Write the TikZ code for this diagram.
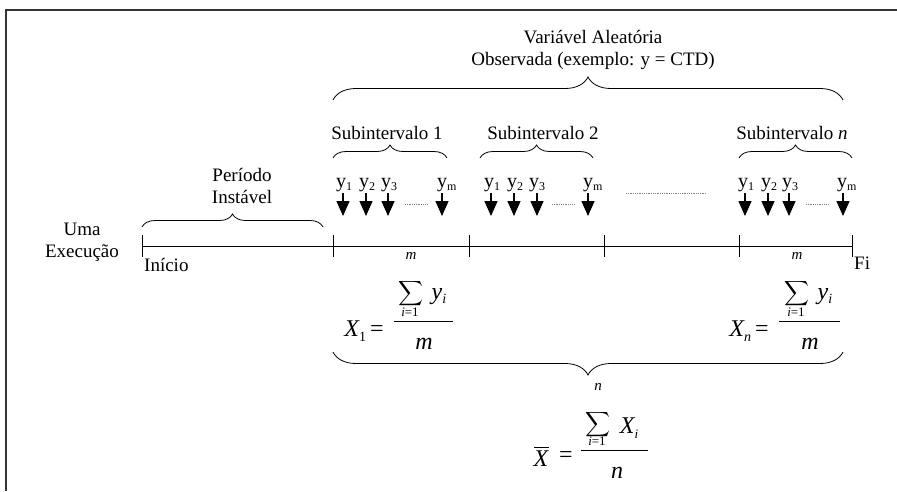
\documentclass[tikz,border=0pt]{standalone}
\usepackage{exscale}
\usepackage{fontspec}
\setmainfont{Liberation Serif}
\usetikzlibrary{decorations.pathreplacing,arrows.meta}
\newcommand\ysub[1]{y\raisebox{-3pt}{\fontsize{12}{12}\selectfont #1}}
\begin{document}
\begin{tikzpicture}[x=1pt,y=-1pt,
  lbl/.style={inner sep=0pt,font=\fontsize{19}{22}\selectfont,align=center},
  ylab/.style={inner sep=0pt,anchor=base west,font=\fontsize{20}{22}\selectfont},
  bigit/.style={inner sep=0pt,font=\fontsize{24}{26}\selectfont\itshape},
  smit/.style={inner sep=0pt,font=\fontsize{15}{16}\selectfont\itshape},
  lim/.style={inner sep=0pt,font=\fontsize{13}{14}\selectfont},
  sig/.style={inner sep=0pt,font=\fontsize{19}{20}\selectfont},
  brup/.style={decorate,decoration={brace,amplitude=#1},line width=0.8pt},
  brdn/.style={decorate,decoration={brace,amplitude=#1,mirror},line width=0.8pt},
  obs/.style={line width=1.3pt,-{Triangle[width=13pt,length=15pt]}},
  dots/.style={gray,line width=0.7pt,dash pattern=on 0.8pt off 1pt},
  fbar/.style={line width=0.8pt}]
\useasboundingbox (0,0) rectangle (897,491);
% frame
\coordinate (fbl) at (6,491); \coordinate (ftl) at (6,10); \coordinate (ftr) at (897,10);
\draw[line width=1.3pt,black!80] (fbl) -- (ftl) -- (ftr);

% top label and brace
\node[lbl] (var) at (593,50) {Variável Aleatória\\Observada (exemplo: y = CTD)};
\coordinate (tb1) at (333,100); \coordinate (tb2) at (843,100);
\draw[brup=23pt] (tb1) -- (tb2);

% subinterval labels and braces
\node[lbl] (s1) at (387,133) {Subintervalo 1};
\node[lbl] (s2) at (543,133) {Subintervalo 2};
\node[lbl] (sn) at (792,133) {Subintervalo \textit{n}};
\coordinate (a1) at (333,158); \coordinate (b1) at (447,158);
\coordinate (a2) at (480,158); \coordinate (b2) at (593,158);
\coordinate (an) at (739,158); \coordinate (bn) at (852,158);
\draw[brup=13pt] (a1) -- (b1);
\draw[brup=13pt] (a2) -- (b2);
\draw[brup=13pt] (an) -- (bn);

% y labels
\node[ylab] (y11) at (336,187) {\ysub{1}};
\node[ylab] (y12) at (359,187) {\ysub{2}};
\node[ylab] (y13) at (381,187) {\ysub{3}};
\node[ylab] (y1m) at (437,187) {\ysub{m}};
\node[ylab] (y21) at (484,187) {\ysub{1}};
\node[ylab] (y22) at (507,187) {\ysub{2}};
\node[ylab] (y23) at (529,187) {\ysub{3}};
\node[ylab] (y2m) at (583,187) {\ysub{m}};
\node[ylab] (yn1) at (738,187) {\ysub{1}};
\node[ylab] (yn2) at (761,187) {\ysub{2}};
\node[ylab] (yn3) at (782,187) {\ysub{3}};
\node[ylab] (ynm) at (837,187) {\ysub{m}};

% arrows
\foreach \x in {343,366,388,442,491,514,537,588,745,768,789,843}
  \draw[obs] (\x,193) -- (\x,216);
\draw[dots] (405,204) -- (427,204);
\draw[dots] (552,204) -- (575,204);
\draw[dots] (806,204) -- (828,204);
\draw[dots] (626,193) -- (706,193);

% period label and brace
\node[lbl] (per) at (242,186) {Período\\Instável};
\coordinate (pa) at (142,227); \coordinate (pb) at (323,227);
\draw[brup=13pt] (pa) -- (pb);

% timeline
\node[lbl] (uma) at (82,242) {Uma\\Execução};
\coordinate (t0) at (142,246); \coordinate (t1) at (333,246);
\coordinate (t2) at (469,246); \coordinate (t3) at (604,246);
\coordinate (t4) at (739,246); \coordinate (t5) at (852,246);
\draw[line width=0.8pt] (t0) -- (t5);
\foreach \t in {t0,t1,t2,t3,t4,t5}
  \draw[line width=0.8pt] ([yshift=11pt]\t) -- ([yshift=-11pt]\t);
\node[lbl,anchor=west] (ini) at (144,265) {Início};
\node[lbl,anchor=west] (fim) at (854,263) {Fi};

% X_1 formula
\node[bigit] (x1) at (364,331) {X\raisebox{-5pt}{\fontsize{14}{14}\upshape 1}\,\upshape =};
\draw[fbar] (394,321) -- (453,321);
\node[sig] (s1s) at (411,294) {$\displaystyle\sum$};
\node[smit] (s1t) at (411,256) {m};
\node[lim] (s1b) at (410,312) {\itshape i\upshape=1};
\node[bigit] (s1y) at (439,297) {y\raisebox{-4pt}{\fontsize{14}{14}\selectfont i}};
\node[bigit] (s1m) at (424,344) {m};

% X_n formula
\node[bigit] (xn) at (749,331) {X\raisebox{-5pt}{\fontsize{14}{14}\selectfont n}\,\upshape =};
\draw[fbar] (779,321) -- (840,321);
\node[sig] (sns) at (797,294) {$\displaystyle\sum$};
\node[smit] (snt) at (797,256) {m};
\node[lim] (snb) at (796,312) {\itshape i\upshape=1};
\node[bigit] (sny) at (825,297) {y\raisebox{-4pt}{\fontsize{14}{14}\selectfont i}};
\node[bigit] (snm) at (810,344) {m};

% bottom brace
\coordinate (bb1) at (333,352); \coordinate (bb2) at (843,352);
\draw[brdn=23pt] (bb1) -- (bb2);

% X bar formula
\node[bigit] (xb) at (541,459) {X};
\draw[fbar] ([yshift=4pt,xshift=1pt]xb.north west) -- ([yshift=4pt]xb.north east);
\node[bigit] (xbeq) at (566,457) {\upshape =};
\draw[fbar] (581,450) -- (648,450);
\node[sig] (sbs) at (598,425) {$\displaystyle\sum$};
\node[smit] (sbt) at (598,387) {n};
\node[lim] (sbb) at (597,441) {\itshape i\upshape=1};
\node[bigit] (sbx) at (629,428) {X\raisebox{-5pt}{\fontsize{13}{13}\selectfont i}};
\node[bigit] (sbn) at (617,473) {n};
\end{tikzpicture}
\end{document}
